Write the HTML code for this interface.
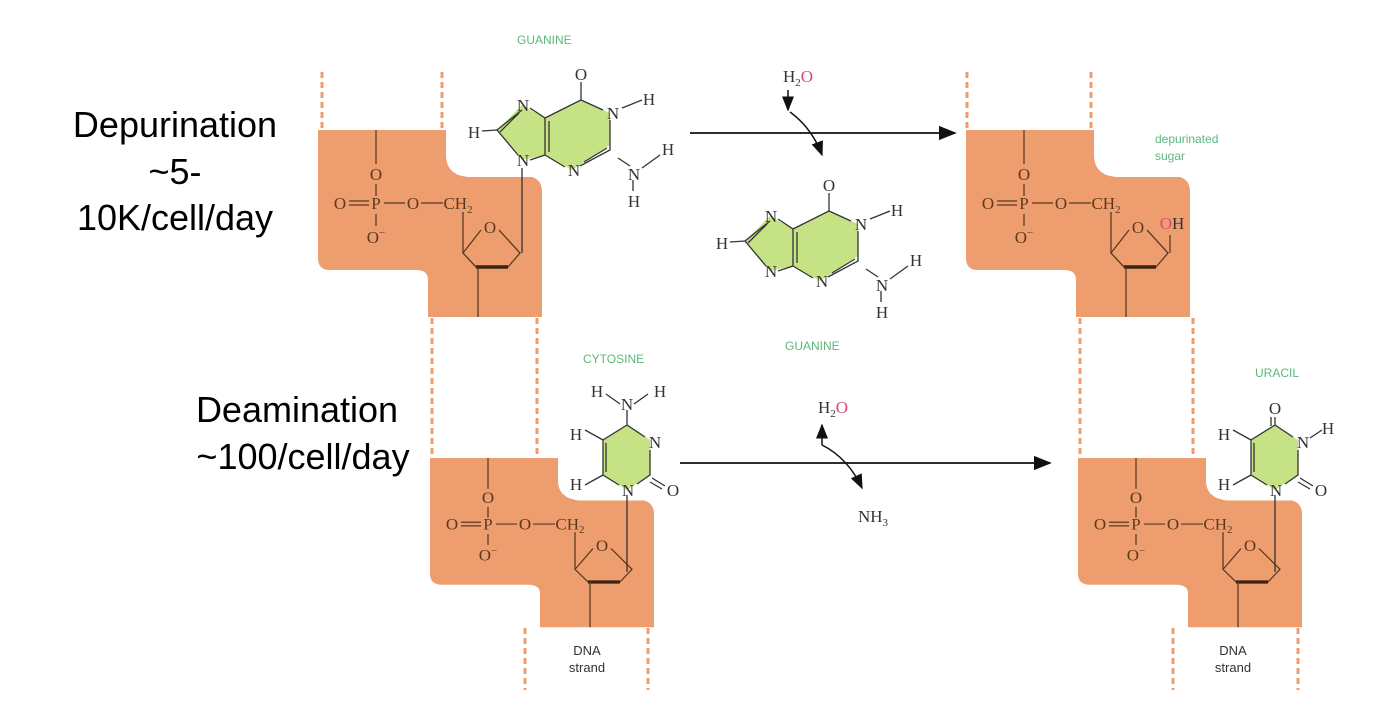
<!DOCTYPE html>
<html><head><meta charset="utf-8"><style>
html,body{margin:0;padding:0;background:#fff;}
svg{display:block;}
.lbl{font-family:"Liberation Sans",sans-serif;font-size:36px;fill:#000;text-anchor:middle;}
.at{font-family:"Liberation Serif",serif;font-size:17px;fill:#333;text-anchor:middle;}
.bt{font-family:"Liberation Serif",serif;font-size:17px;fill:#5a3a20;text-anchor:middle;}
.gl{font-family:"Liberation Sans",sans-serif;font-size:12px;fill:#5cb87a;}
.bl{font-family:"Liberation Sans",sans-serif;font-size:13px;fill:#333;text-anchor:middle;}
.ln{stroke:#333;stroke-width:1.3;fill:none;}
.bln{stroke:#5a3a20;stroke-width:1.3;fill:none;}
.dash{stroke:#ee9e6e;stroke-width:3;stroke-dasharray:6,4;}
</style></head><body>
<svg width="1385" height="721" viewBox="0 0 1385 721" xmlns="http://www.w3.org/2000/svg">
<defs>
<marker id="ah" markerWidth="10" markerHeight="8" refX="9" refY="4" orient="auto"><path d="M0,0 L10,4 L0,8 Z" fill="#111"/></marker>
<g id="blk">
 <path d="M0,0 H128 V25 Q128,45 150,47 H214 Q224,50 224,62 V187 H110 V150 Q110,140 98,140 H12 Q0,140 0,128 Z" fill="#ee9e6e"/>
 <line class="bln" x1="58" y1="0" x2="58" y2="34"/>
 <text class="bt" x="58" y="50">O</text>
 <line class="bln" x1="58" y1="54" x2="58" y2="66"/>
 <text class="bt" x="22" y="79">O</text>
 <line class="bln" x1="31" y1="71" x2="51" y2="71"/><line class="bln" x1="31" y1="75" x2="51" y2="75"/>
 <text class="bt" x="58" y="79">P</text>
 <line class="bln" x1="66" y1="73" x2="87" y2="73"/>
 <text class="bt" x="95" y="79">O</text>
 <line class="bln" x1="103" y1="73" x2="125" y2="73"/>
 <text class="bt" x="140" y="79">CH<tspan font-size="11" dy="4">2</tspan></text>
 <line class="bln" x1="58" y1="84" x2="58" y2="96"/>
 <text class="bt" x="58" y="113">O<tspan font-size="11" dy="-7">−</tspan></text>
 <line class="bln" x1="145" y1="82" x2="145" y2="123"/>
 <text class="bt" x="172" y="103">O</text>
 <path class="bln" d="M163,100 L145,123 L158,137 M181,100 L202,123 L190,137"/>
 <path d="M158,137 H190" stroke="#3a2414" stroke-width="3.5"/>
 <line class="bln" x1="160" y1="137" x2="160" y2="187"/>
</g>
<g id="gua">
 <polygon points="522,105 497,130 522,160 545,155 572,170 610,145 610,113 581,100 545,118" fill="#c5e384"/>
 <path class="ln" d="M530,108 L545,118 L545,155 L530,160 M522,110 L497,130 L518,155 M545,118 L581,100 L581,82 M545,155 L565,167 M580,166 L610,150 L610,120 M603,110 L581,100 M497,130 L482,131 M622,108 L642,100 M618,158 L630,166 M642,168 L660,155 M633,180 L633,191"/>
 <path class="ln" d="M549,121 L549,152 M500,132 L519,113 M584,162 L607,148"/>
 <text class="at" x="581" y="80">O</text>
 <text class="at" x="523" y="111">N</text>
 <text class="at" x="613" y="119">N</text>
 <text class="at" x="649" y="105">H</text>
 <text class="at" x="574" y="176">N</text>
 <text class="at" x="474" y="138">H</text>
 <text class="at" x="523" y="166">N</text>
 <text class="at" x="634" y="180">N</text>
 <text class="at" x="668" y="155">H</text>
 <text class="at" x="634" y="207">H</text>
</g>
<g id="pyr">
 <polygon points="627,425 650,440 650,475 627,490 603,475 603,440" fill="#c5e384"/>
 <path class="ln" d="M627,425 L645,437 M650,450 L650,475 L637,484 M619,485 L603,475 L603,440 L627,425 M606,443 L606,472 M603,440 L585,430 M603,475 L585,485 M652,478 L665,486 M650,482 L662,489 M627,495 L627,510"/>
 <text class="at" x="655" y="448">N</text>
 <text class="at" x="628" y="496">N</text>
 <text class="at" x="673" y="496">O</text>
 <text class="at" x="576" y="440">H</text>
 <text class="at" x="576" y="490">H</text>
</g>
</defs>

<text class="lbl" x="175" y="137">Depurination</text>
<text class="lbl" x="175" y="184">~5-</text>
<text class="lbl" x="175" y="230">10K/cell/day</text>
<text class="lbl" x="297" y="422">Deamination</text>
<text class="lbl" x="303" y="469">~100/cell/day</text>

<line class="dash" x1="322" y1="72" x2="322" y2="130"/><line class="dash" x1="442" y1="72" x2="442" y2="130"/>
<line class="dash" x1="432" y1="318" x2="432" y2="458"/><line class="dash" x1="537" y1="318" x2="537" y2="458"/>
<line class="dash" x1="525" y1="628" x2="525" y2="690"/><line class="dash" x1="648" y1="628" x2="648" y2="690"/>
<line class="dash" x1="967" y1="72" x2="967" y2="130"/><line class="dash" x1="1091" y1="72" x2="1091" y2="130"/>
<line class="dash" x1="1080" y1="318" x2="1080" y2="458"/><line class="dash" x1="1193" y1="318" x2="1193" y2="458"/>
<line class="dash" x1="1173" y1="628" x2="1173" y2="690"/><line class="dash" x1="1298" y1="628" x2="1298" y2="690"/>

<use href="#blk" transform="translate(318,130)"/>
<line class="ln" x1="522" y1="168" x2="522" y2="253"/>
<use href="#gua"/>
<text class="gl" x="517" y="44">GUANINE</text>

<use href="#gua" transform="translate(248,111)"/>
<text class="gl" x="785" y="350">GUANINE</text>

<line x1="690" y1="133" x2="955" y2="133" stroke="#111" stroke-width="1.8" marker-end="url(#ah)"/>
<text class="at" x="798" y="82">H<tspan font-size="11" dy="4">2</tspan><tspan dy="-4" fill="#e0457b">O</tspan></text>
<path d="M788,90 L788,110" stroke="#111" stroke-width="1.5" marker-end="url(#ah)"/>
<path d="M790,112 Q812,128 822,155" stroke="#111" stroke-width="1.5" fill="none" marker-end="url(#ah)"/>

<use href="#blk" transform="translate(966,130)"/>
<text class="at" x="1172" y="229"><tspan fill="#e0457b">O</tspan><tspan fill="#333">H</tspan></text>
<line class="bln" x1="1170" y1="235" x2="1170" y2="253"/>
<text class="gl" x="1155" y="143">depurinated</text>
<text class="gl" x="1155" y="160">sugar</text>

<use href="#blk" transform="translate(430,458) scale(1,0.905)"/>
<use href="#pyr"/>
<line class="ln" x1="627" y1="410" x2="627" y2="425"/>
<text class="at" x="627" y="410">N</text>
<path class="ln" d="M620,404 L606,394 M634,404 L648,394"/>
<text class="at" x="597" y="397">H</text>
<text class="at" x="660" y="397">H</text>
<line class="ln" x1="627" y1="510" x2="627" y2="572"/>
<text class="gl" x="583" y="363">CYTOSINE</text>
<text class="bl" x="587" y="655">DNA</text>
<text class="bl" x="587" y="672">strand</text>

<line x1="680" y1="463" x2="1050" y2="463" stroke="#111" stroke-width="1.8" marker-end="url(#ah)"/>
<text class="at" x="833" y="413">H<tspan font-size="11" dy="4">2</tspan><tspan dy="-4" fill="#e0457b">O</tspan></text>
<path d="M822,445 L822,425" stroke="#111" stroke-width="1.5" marker-end="url(#ah)"/>
<path d="M822,445 Q848,458 862,488" stroke="#111" stroke-width="1.5" fill="none" marker-end="url(#ah)"/>
<text class="at" x="873" y="522">NH<tspan font-size="11" dy="4">3</tspan></text>

<use href="#blk" transform="translate(1078,458) scale(1,0.905)"/>
<use href="#pyr" transform="translate(648,0)"/>
<text class="at" x="1275" y="414" fill="#e0457b">O</text>
<line class="ln" x1="1275" y1="417" x2="1275" y2="425"/><line class="ln" x1="1271" y1="417" x2="1271" y2="426"/>
<path class="ln" d="M1310,438 L1322,430"/>
<text class="at" x="1328" y="434">H</text>
<line class="ln" x1="1275" y1="510" x2="1275" y2="572"/>
<text class="gl" x="1255" y="377">URACIL</text>
<text class="bl" x="1233" y="655">DNA</text>
<text class="bl" x="1233" y="672">strand</text>
</svg>
</body></html>
